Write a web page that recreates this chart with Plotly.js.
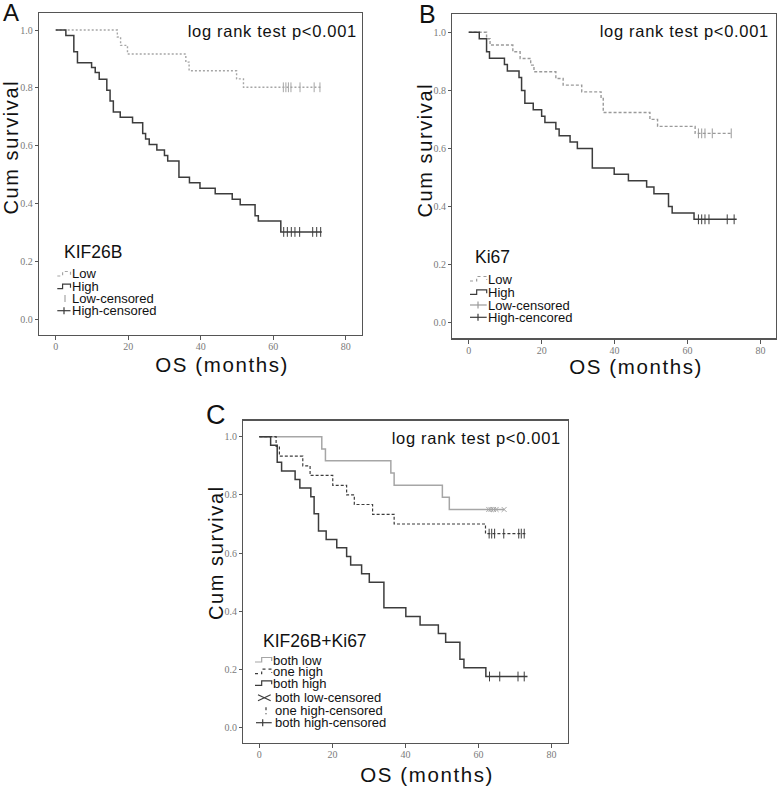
<!DOCTYPE html>
<html><head><meta charset="utf-8">
<script src="https://cdn.plot.ly/plotly-3.0.1.min.js"></script>
<style>html,body{margin:0;padding:0;background:#fff}</style>
</head><body><div id="chart" style="width:778px;height:786px"></div>
<script>
// ---------- DATA ----------
// Panel A: KIF26B
const aLowTime  = [0, 17.0, 17.9, 19.8, 35.9, 36.8, 49.9, 51.8, 73.4];
const aLowSurv  = [1, 0.976, 0.947, 0.917, 0.889, 0.859, 0.831, 0.802, 0.802];
const aLowCens  = [62.8, 63.5, 64.2, 64.9, 67.4, 71.3, 72.9];
const aHighTime = [0, 2.8, 5.0, 6.0, 9.9, 10.9, 12.0, 14.1, 15.0, 15.9, 17.8, 21.2, 24.0, 24.8, 25.8, 27.9, 30.0, 30.9, 34.0, 36.9, 39.8, 44.0, 48.7, 50.9, 55.0, 55.9, 62.1, 73.4];
const aHighSurv = [1, 0.981, 0.925, 0.887, 0.870, 0.853, 0.830, 0.792, 0.755, 0.717, 0.698, 0.679, 0.642, 0.623, 0.604, 0.585, 0.566, 0.547, 0.491, 0.472, 0.453, 0.434, 0.415, 0.396, 0.358, 0.340, 0.302, 0.302];
const aHighCens = [62.9, 63.9, 65.0, 66.0, 67.3, 70.9, 72.0, 73.1];

// Panel B: Ki67
const bLowTime  = [0, 4.9, 5.85, 12.1, 14.1, 17.0, 17.9, 23.9, 25.9, 31.0, 36.3, 36.9, 49.7, 51.8, 62.1, 72.1];
const bLowSurv  = [1, 0.978, 0.956, 0.933, 0.910, 0.887, 0.864, 0.841, 0.818, 0.795, 0.772, 0.724, 0.700, 0.676, 0.652, 0.652];
const bLowCens  = [63.0, 63.9, 64.8, 66.8, 72.0];
const bHighTime = [0, 2.9, 4.9, 5.7, 9.8, 10.6, 13.8, 14.5, 15.4, 17.7, 20.0, 20.9, 23.9, 24.8, 27.8, 29.8, 33.9, 39.9, 43.8, 48.8, 50.8, 54.8, 55.8, 61.8, 73.5];
const bHighSurv = [1, 0.978, 0.933, 0.911, 0.889, 0.867, 0.844, 0.800, 0.756, 0.733, 0.711, 0.689, 0.667, 0.644, 0.622, 0.600, 0.533, 0.511, 0.489, 0.467, 0.444, 0.400, 0.378, 0.356, 0.356];
const bHighCens = [63.0, 63.9, 64.8, 65.9, 70.9, 72.8];

// Panel C: KIF26B+Ki67
const cBothLowTime  = [0, 17.1, 18.1, 36.0, 36.9, 50.1, 52.0, 67.1];
const cBothLowSurv  = [1, 0.958, 0.917, 0.875, 0.833, 0.792, 0.750, 0.750];
const cBothLowCens  = [62.8, 63.4, 64.1, 64.8, 67.0];
const cOneHighTime  = [0, 4.6, 5.5, 11.9, 13.9, 20.1, 23.9, 26.0, 31.0, 36.9, 61.9, 73.2];
const cOneHighSurv  = [1, 0.967, 0.933, 0.900, 0.867, 0.833, 0.800, 0.767, 0.733, 0.700, 0.667, 0.667];
const cOneHighCens  = [62.9, 63.6, 64.4, 66.9, 71.0, 71.7, 72.5];
const cBothHighTime = [0, 3.1, 4.9, 6.1, 9.8, 11.1, 14.1, 15.0, 16.2, 18.3, 21.2, 23.9, 25.0, 28.0, 30.1, 34.1, 40.1, 44.0, 49.0, 51.0, 54.9, 56.0, 62.0, 73.4];
const cBothHighSurv = [1, 0.971, 0.912, 0.882, 0.853, 0.824, 0.794, 0.735, 0.676, 0.647, 0.618, 0.588, 0.559, 0.529, 0.500, 0.412, 0.382, 0.353, 0.324, 0.294, 0.235, 0.206, 0.176, 0.176];
const cBothHighCens = [63.0, 65.8, 70.8, 72.5];

const xTicks = [0, 20, 40, 60, 80];
const yTicks = [0, 0.2, 0.4, 0.6, 0.8, 1.0];
const pText = 'log rank test p<0.001';
const xTitle = 'OS (months)';
const yTitle = 'Cum survival';
const legA = ['Low', 'High', 'Low-censored', 'High-censored'];
const legB = ['Low', 'High', 'Low-censored', 'High-cencored'];
const legC = ['both low', 'one high', 'both high', 'both low-censored', 'one high-censored', 'both high-censored'];

// ---------- helpers ----------
const W = 778, H = 786;
const px = x => x / W, py = y => 1 - y / H;
function levelAt(times, surv, t) { let v = surv[0]; for (let i = 0; i < times.length; i++) { if (times[i] <= t) v = surv[i]; } return v; }

const LIGHT = '#a6a6a6', MID = '#9a9a9a', DARK = '#3c3c3c';

function curve(t, s, ax, color, dash, width) {
  return {x: t, y: s, xaxis: 'x' + ax, yaxis: 'y' + ax, mode: 'lines', type: 'scatter',
    line: {shape: 'hv', color: color, dash: dash, width: width || 1.4}, hoverinfo: 'skip'};
}
function cens(c, t, s, ax, color, symbol, size) {
  return {x: c, y: c.map(v => levelAt(t, s, v)), xaxis: 'x' + ax, yaxis: 'y' + ax, mode: 'markers', type: 'scatter',
    marker: {symbol: symbol || 'line-ns', size: size || 7, color: color, line: {color: color, width: 1}}, hoverinfo: 'skip'};
}

const traces = [
  curve(aLowTime, aLowSurv, '', LIGHT, '2px,2px'),
  curve(aHighTime, aHighSurv, '', DARK, 'solid', 1.5),
  cens(aLowCens, aLowTime, aLowSurv, '', LIGHT),
  cens(aHighCens, aHighTime, aHighSurv, '', DARK),
  curve(bLowTime, bLowSurv, '2', MID, '3px,2px'),
  curve(bHighTime, bHighSurv, '2', DARK, 'solid', 1.5),
  cens(bLowCens, bLowTime, bLowSurv, '2', MID),
  cens(bHighCens, bHighTime, bHighSurv, '2', DARK),
  curve(cBothLowTime, cBothLowSurv, '3', LIGHT, 'solid', 1.5),
  curve(cOneHighTime, cOneHighSurv, '3', DARK, '3px,2px', 1.2),
  curve(cBothHighTime, cBothHighSurv, '3', DARK, 'solid', 1.5),
  cens(cBothLowCens, cBothLowTime, cBothLowSurv, '3', LIGHT, 'x-thin', 5),
  cens(cOneHighCens, cOneHighTime, cOneHighSurv, '3', DARK),
  cens(cBothHighCens, cBothHighTime, cBothHighSurv, '3', DARK)
];

// panel frames in pixels: [left, top, right, bottom], and ranges
const frames = {
  '':  {box: [39, 13, 362, 335],     xr: [-4.61, 84.5], yr: [-0.0543, 1.0588]},
  '2': {box: [452.3, 14, 776, 338.3], xr: [-4.5, 84.28], yr: [-0.0537, 1.063]},
  '3': {box: [243.3, 420.7, 567.7, 742.7], xr: [-4.38, 84.4], yr: [-0.0515, 1.055]}
};
const tickFont = {family: 'Liberation Serif, Times New Roman, serif', size: 10, color: '#7a7a7a'};
const layout = {width: W, height: H, margin: {l: 0, r: 0, t: 0, b: 0}, showlegend: false,
  paper_bgcolor: '#fff', plot_bgcolor: '#fff', annotations: [], shapes: []};
for (const k of Object.keys(frames)) {
  const f = frames[k];
  const base = {showline: true, linecolor: '#555', linewidth: 1.3, mirror: true, ticks: 'outside', tickcolor: '#555',
    tickwidth: 1, showgrid: false, zeroline: false, tickfont: tickFont, fixedrange: true};
  layout['xaxis' + k] = Object.assign({}, base, {domain: [px(f.box[0]), px(f.box[2])], range: f.xr, tickvals: xTicks,
    ticklen: 4, ticklabelstandoff: -2, anchor: 'y' + k});
  layout['yaxis' + k] = Object.assign({}, base, {domain: [py(f.box[3]), py(f.box[1])], range: f.yr, tickvals: yTicks,
    tickformat: '.1f', ticklen: 3, anchor: 'x' + k});
}

const TXT = 'Liberation Sans, Arial, sans-serif';
function ann(text, x, y, size, opts) {
  layout.annotations.push(Object.assign({text: text, x: px(x), y: py(y), xref: 'paper', yref: 'paper', showarrow: false,
    xanchor: 'center', yanchor: 'middle', borderpad: 0, borderwidth: 0, font: {family: TXT, size: size, color: '#111'}}, opts || {}));
}
// panel letters
ann('A', 11, 12, 24); ann('B', 427.5, 14, 25); ann('C', 216, 415, 27);
// log rank texts
ann(pText, 272.5, 31, 16.5); ann(pText, 684, 31, 16.5); ann(pText, 476.7, 437.5, 16.5);
// axis titles
ann(xTitle, 222, 364, 20.5); ann(xTitle, 636, 366, 20.5); ann(xTitle, 427, 774, 20.5);
ann(yTitle, 11, 147, 20, {textangle: -90}); ann(yTitle, 425, 150, 20, {textangle: -90}); ann(yTitle, 215.5, 553, 20, {textangle: -90});
// legend titles
ann('KIF26B', 64.3, 251.7, 17.5, {xanchor: 'left'});
ann('Ki67', 475, 257.3, 17.5, {xanchor: 'left'});
ann('KIF26B+Ki67', 263.3, 640.7, 17.5, {xanchor: 'left'});

// legend glyph helpers
function shp(path, color, dash, w) {
  layout.shapes.push({type: 'path', xref: 'paper', yref: 'paper', path: path, line: {color: color, dash: dash || 'solid', width: w || 1.2}});
}
function P(pts) { return pts.map((p, i) => (i ? 'L' : 'M') + px(p[0]).toFixed(5) + ',' + py(p[1]).toFixed(5)).join(' '); }
function stepGlyph(x0, x1, y, color, dash) {
  const m = x0 + (x1 - x0) * 0.4;
  shp(P([[x0, y + 2], [m, y + 2], [m, y - 2.5], [x1, y - 2.5], [x1, y + 1]]), color, dash);
}
function plusGlyph(x0, x1, xm, y, color) {
  shp(P([[x0, y], [x1, y]]), color); shp(P([[xm, y - 3.5], [xm, y + 3.5]]), color);
}

const LEGSIZE = 13;
// Legend A
const aRows = [274, 286.7, 298.5, 310.7];
stepGlyph(57.3, 70.5, aRows[0], LIGHT, 'dot');
stepGlyph(57.3, 70.5, aRows[1], DARK, 'solid');
shp(P([[65, aRows[2] - 3.5], [65, aRows[2] + 3.5]]), LIGHT);
plusGlyph(57.3, 70.5, 64, aRows[3], DARK);
aRows.forEach((y, i) => ann(legA[i], 72.3, y, LEGSIZE, {xanchor: 'left'}));

// Legend B
const bRows = [279, 292.3, 305, 317.3];
stepGlyph(470, 486.7, bRows[0], MID, 'dot');
stepGlyph(470, 486.7, bRows[1], DARK, 'solid');
plusGlyph(470, 486.7, 478, bRows[2], MID);
plusGlyph(470, 486.7, 478, bRows[3], DARK);
bRows.forEach((y, i) => ann(legB[i], 487.7, y, LEGSIZE, {xanchor: 'left'}));

// Legend C
const cRows = [660, 671.7, 683.3, 697.7, 710.7, 722.7];
stepGlyph(255, 271.7, cRows[0], LIGHT, 'solid');
stepGlyph(255, 271.7, cRows[1], DARK, 'dot');
stepGlyph(255, 271.7, cRows[2], DARK, 'solid');
shp(P([[258, cRows[3] - 3], [270.7, cRows[3] + 3]]), DARK); shp(P([[258, cRows[3] + 3], [270.7, cRows[3] - 3]]), DARK);
shp(P([[266, cRows[4] - 3.5], [266, cRows[4] + 3.5]]), DARK, 'dot');
plusGlyph(256, 271.7, 262.7, cRows[5], DARK);
cRows.forEach((y, i) => ann(legC[i], i < 3 ? 273.3 : 275, y, LEGSIZE, {xanchor: 'left'}));

Plotly.newPlot('chart', traces, layout, {displayModeBar: false, staticPlot: true}).then(function (gd) {
  gd.querySelectorAll('text.annotation-text').forEach(function (t) {
    const s = t.textContent;
    if (s === xTitle || s === yTitle) t.style.letterSpacing = '1.6px';
    else if (s === pText) t.style.letterSpacing = '0.7px';
  });
});
</script></body></html>
